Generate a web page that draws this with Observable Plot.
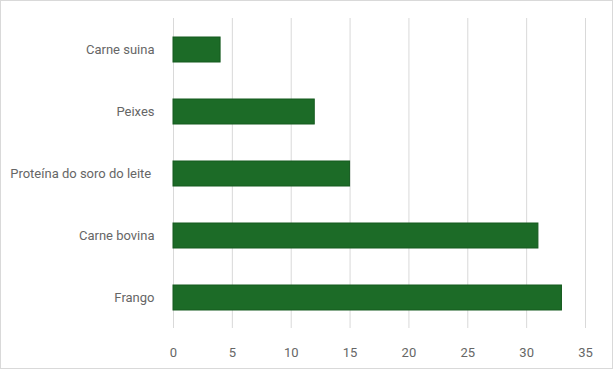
<!DOCTYPE html>
<html><head><meta charset="utf-8">
<script src="https://cdn.jsdelivr.net/npm/d3@7"></script>
<script src="https://cdn.jsdelivr.net/npm/@observablehq/plot@0.6"></script>
<style>
html,body{margin:0;padding:0;background:#fff;}
#wrap{position:relative;width:613px;height:369px;}
#frame{position:absolute;left:0;top:0;width:611px;height:367px;border:1px solid #d9d9d9;pointer-events:none;}
svg text{white-space:pre;}
</style></head>
<body><div id="wrap"><div id="chart"></div><div id="frame"></div></div>
<script>
const categories = ["Carne suina", "Peixes", "Proteína do soro do leite ", "Carne bovina", "Frango"];
const values = [4, 12, 15, 31, 33];
const xTicks = [0, 5, 10, 15, 20, 25, 30, 35];

const data = categories.map((c, i) => ({category: c, value: values[i]}));

const chart = Plot.plot({
  width: 613,
  height: 369,
  marginLeft: 173,
  marginRight: 28,
  marginTop: 18,
  marginBottom: 41,
  style: {fontFamily: "Roboto, sans-serif", fontSize: "13px", color: "#666", background: "#fff"},
  x: {domain: [0, 35], ticks: xTicks},
  y: {domain: categories, paddingInner: 0.6, paddingOuter: 0.3},
  marks: [
    Plot.gridX(xTicks, {stroke: "#d9d9d9", strokeOpacity: 1, strokeWidth: 1}),
    Plot.axisX({ticks: xTicks, tickSize: 0, tickPadding: 19, label: null, fill: "#666"}),
    Plot.axisY({tickSize: 0, tickPadding: 19, label: null, fill: "#666"}),
    Plot.barX(data, {x: "value", y: "category", fill: "#1c6b27", stroke: "#155a1f", strokeWidth: 1})
  ]
});
document.getElementById("chart").append(chart);
</script>
</body></html>
